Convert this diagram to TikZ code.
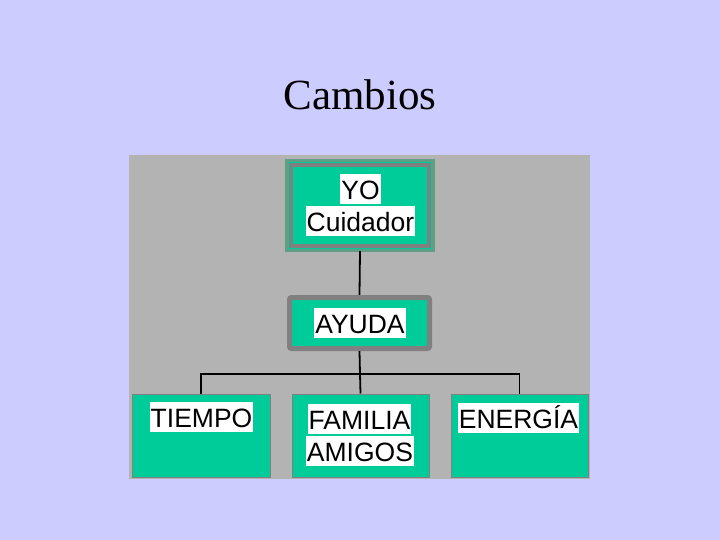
\documentclass[tikz,border=0pt]{standalone}
\usepackage{fontspec}
\setmainfont{Liberation Serif}
\newfontfamily\arialf{Liberation Sans}
\definecolor{bgc}{RGB}{204,204,255}
\definecolor{panel}{RGB}{179,179,179}
\definecolor{teal1}{RGB}{0,204,153}
\definecolor{frame}{RGB}{128,128,128}
\definecolor{frame2}{RGB}{96,158,134}
\tikzset{
  lbl/.style={fill=white, inner xsep=1pt, inner ysep=0pt, text height=25pt, text depth=4.5pt, font=\arialf\fontsize{26.5}{30}\selectfont, anchor=north},
  leafbox/.style={fill=teal1, draw=frame, line width=1pt},
  conn/.style={line width=1.8pt, black}
}
\begin{document}
\begin{tikzpicture}[x=1pt,y=-1pt]
\useasboundingbox (0,0) rectangle (720,540);
\fill[bgc] (0,0) rectangle (720,540);
\node[font=\fontsize{43}{50}\selectfont, inner sep=0pt] (title) at (360,95) {Cambios};
\fill[panel] (129,155) rectangle (590,479);
% YO box
\draw[fill=teal1, draw=frame2, line width=3pt] (286.5,160.5) rectangle (433.5,250.5);
\draw[draw=frame, line width=3.5pt] (291,165) rectangle (429,246);
\node[inner sep=0pt, minimum width=148pt, minimum height=91pt] (yo) at (360,205.5) {};
\node[lbl] (yot) at (360.5,174) {YO};
\node[lbl] (cuid) at (360.5,206) {Cuidador};
% AYUDA box
\draw[fill=teal1, draw=frame, line width=5pt, rounded corners=2pt] (289.5,297.5) rectangle (429.5,348.5);
\node[inner sep=0pt, minimum width=145pt, minimum height=56pt] (ay) at (359.5,323) {};
\node[lbl] (ayt) at (360,308) {AYUDA};
% bottom boxes
\node[leafbox, minimum width=138pt, minimum height=83pt, inner sep=0pt] (ti) at (201,435.5) {};
\node[leafbox, minimum width=137pt, minimum height=83pt, inner sep=0pt] (fa) at (360.5,435.5) {};
\node[leafbox, minimum width=137pt, minimum height=83pt, inner sep=0pt] (en) at (519.5,435.5) {};
\node[lbl] (tit) at (201.5,402) {TIEMPO};
\node[lbl] (fat) at (359.5,404) {FAMILIA};
\node[lbl] (amt) at (360,436) {AMIGOS};
\node[lbl] (ent) at (518.5,403) {ENERGÍA};
% connectors
\coordinate (jn) at (360,374);
\draw[conn] (yo.south) -- (ay.north);
\draw[conn] (ay.south) -- (jn);
\draw[conn] (ti.north) |- (jn) -| (en.north);
\draw[conn] (jn) -- (fa.north);
\end{tikzpicture}
\end{document}
